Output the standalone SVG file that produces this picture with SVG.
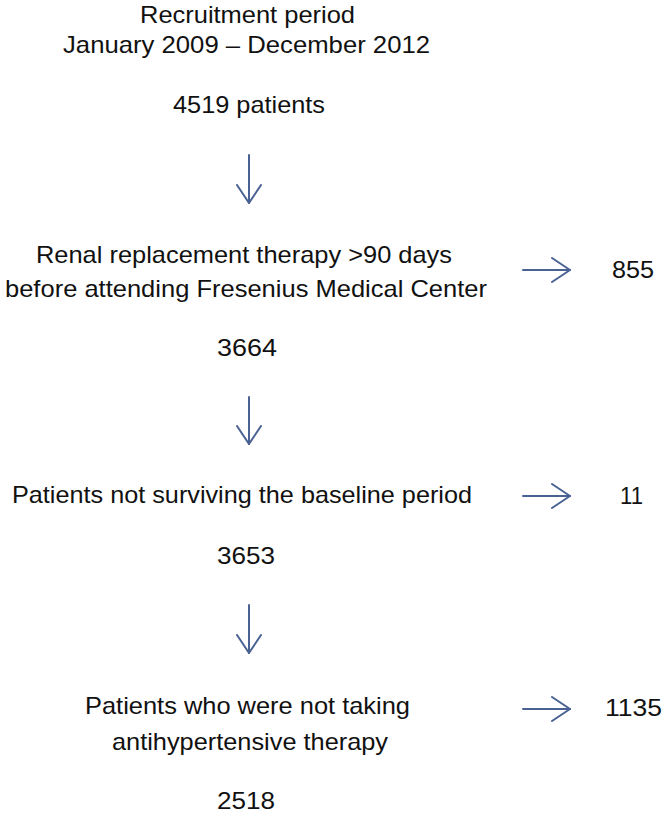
<svg xmlns="http://www.w3.org/2000/svg" width="664" height="816" viewBox="0 0 664 816">
<style>
text{font-family:"Liberation Sans",Arial,sans-serif;font-size:24px;fill:#111;}
.a{fill:none;stroke:#4a6194;stroke-width:2;stroke-linecap:round;stroke-linejoin:round;}
</style>
<defs>
<marker id="v" viewBox="0 0 20 26" refX="19" refY="13" markerWidth="20" markerHeight="26" markerUnits="userSpaceOnUse" orient="auto">
<path d="M1,1 L19,13 L1,25" class="a"/>
</marker>
</defs>
<rect width="664" height="816" fill="#fff"/>
<g id="n1">
<text x="140" y="23" textLength="215" lengthAdjust="spacingAndGlyphs">Recruitment period</text>
<text x="63" y="53" textLength="367" lengthAdjust="spacingAndGlyphs">January  2009 – December 2012</text>
<text x="173" y="113" textLength="152" lengthAdjust="spacingAndGlyphs">4519 patients</text>
</g>
<g id="n2">
<text x="36" y="263" textLength="416" lengthAdjust="spacingAndGlyphs">Renal replacement therapy &gt;90 days</text>
<text x="5" y="297" textLength="482" lengthAdjust="spacingAndGlyphs">before attending Fresenius Medical Center</text>
</g>
<g id="x1"><text x="612" y="278" textLength="42" lengthAdjust="spacingAndGlyphs">855</text></g>
<g id="n3"><text x="217" y="356" textLength="60" lengthAdjust="spacingAndGlyphs">3664</text></g>
<g id="n4"><text x="12" y="503" textLength="460" lengthAdjust="spacingAndGlyphs">Patients not surviving the baseline period</text></g>
<g id="x2"><text x="620" y="504" textLength="23" lengthAdjust="spacingAndGlyphs">11</text></g>
<g id="n5"><text x="217" y="564" textLength="58" lengthAdjust="spacingAndGlyphs">3653</text></g>
<g id="n6">
<text x="85" y="714" textLength="325" lengthAdjust="spacingAndGlyphs">Patients who were not taking</text>
<text x="112" y="750" textLength="276" lengthAdjust="spacingAndGlyphs">antihypertensive therapy</text>
</g>
<g id="x3"><text x="605" y="716" textLength="57" lengthAdjust="spacingAndGlyphs">1135</text></g>
<g id="n7"><text x="217" y="809" textLength="58" lengthAdjust="spacingAndGlyphs">2518</text></g>
<g id="connectors">
<line class="a" x1="249" y1="155" x2="249" y2="203" marker-end="url(#v)"/>
<line class="a" x1="249" y1="397" x2="249" y2="444" marker-end="url(#v)"/>
<line class="a" x1="249" y1="605" x2="249" y2="653" marker-end="url(#v)"/>
<line class="a" x1="523" y1="270" x2="570" y2="270" marker-end="url(#v)"/>
<line class="a" x1="523" y1="496" x2="570" y2="496" marker-end="url(#v)"/>
<line class="a" x1="523" y1="709" x2="570" y2="709" marker-end="url(#v)"/>
</g>
</svg>
